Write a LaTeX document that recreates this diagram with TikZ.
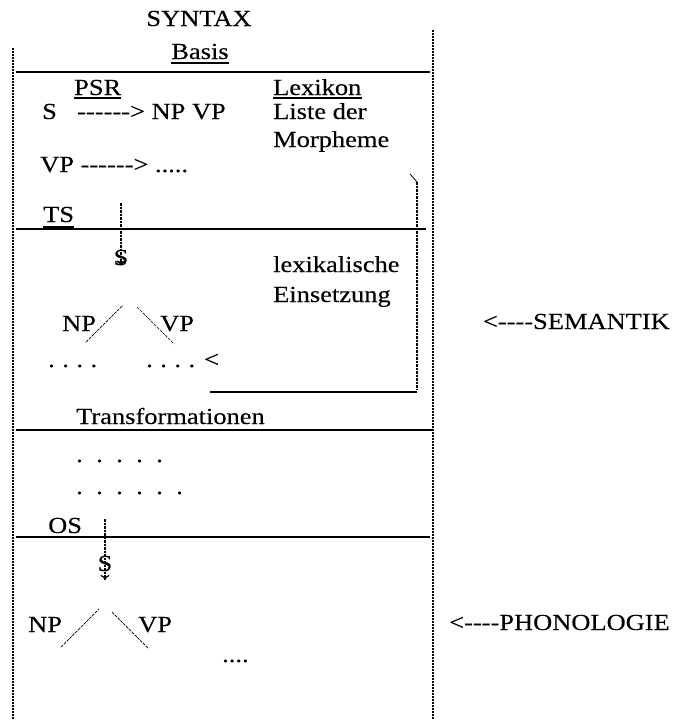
\documentclass[tikz,border=0pt]{standalone}
\usepackage{fontspec}
\usetikzlibrary{arrows.meta}
\setmainfont[FakeStretch=1.15, FakeBold=0.2]{Liberation Serif}
% a single hyphen that never joins its neighbours into a dash ligature
\newcommand\hyph{-\kern0pt}
\begin{document}
\begin{tikzpicture}[x=1pt,y=-1pt,
  txt/.style={inner sep=0pt, anchor=base west, font=\fontsize{23}{26}\selectfont},
  ctxt/.style={txt, anchor=base},
  etxt/.style={txt, anchor=base east},
  rule/.style={line width=1.8pt},
  border/.style={line width=2.8pt, dash pattern=on 2pt off 1pt},
  guide/.style={line width=1.8pt, dash pattern=on 2.5pt off 1pt},
  branch/.style={line width=0.7pt, dash pattern=on 3pt off 1pt},
  ul/.style={line width=1.8pt}]
\useasboundingbox (0,0) rectangle (675,720);

% outer frame (dashed side lines)
\coordinate (fl-top) at (13,48);  \coordinate (fl-bot) at (13,720);
\coordinate (fr-top) at (433,30); \coordinate (fr-bot) at (433,720);
\draw[border] (fl-top) -- (fl-bot);
\draw[border] (fr-top) -- (fr-bot);

% headings
\node[ctxt] (syntax) at (199,26) {SYNTAX};
\node[ctxt] (basis) at (200,59) {Basis};
\draw[ul] (basis.base west) ++(0,4) coordinate (b1) -- (b1 -| basis.base east);

% horizontal rules
\coordinate (r1a) at (16,72);  \coordinate (r1b) at (430,72);
\coordinate (r2a) at (16,229); \coordinate (r2b) at (426,229);
\coordinate (r3a) at (16,430); \coordinate (r3b) at (432,430);
\coordinate (r4a) at (16,537); \coordinate (r4b) at (430,537);
\draw[rule] (r1a) -- (r1b);
\draw[rule] (r2a) -- (r2b);
\draw[rule] (r3a) -- (r3b);
\draw[rule] (r4a) -- (r4b);

% base component: phrase structure rules and lexicon
\node[txt] (psr) at (74,95) {PSR};
\draw[ul] (psr.base west) ++(0,3) coordinate (p1) -- (p1 -| psr.base east);
\node[txt] (lex) at (273,95) {Lexikon};
\draw[ul] (lex.base west) ++(0,3) coordinate (l1) -- (l1 -| lex.base east);
\node[txt] (rule-s) at (42,119) {S};
\node[txt] (rule-s2) at (77,119) {\hyph\hyph\hyph\hyph\hyph\hyph> NP VP};
\node[txt] (liste) at (273,119) {Liste der};
\node[txt] (morph) at (273,147) {Morpheme};
\node[txt] (rule-vp) at (40,172) {VP \hyph\hyph\hyph\hyph\hyph\hyph> .....};

% lexical insertion bracket
\coordinate (k0) at (410,174);
\coordinate (k1) at (417,182);
\coordinate (k2) at (417,390);
\coordinate (k3) at (417,392);
\coordinate (k4) at (210,392);
\draw[line width=0.8pt] (k0) -- (k1);
\draw[guide, line width=1.4pt] (k1) -- (k2);
\draw[rule] (k3) -- (k4);

% deep structure
\node[txt] (ts) at (43,222) {TS};
\draw[ul] (ts.base west) ++(0,5) coordinate (t1) -- (t1 -| ts.base east);
\coordinate (ts-top) at (121,203);
\node[ctxt] (s1) at (121,265) {S};
\draw[guide, -{To[length=5pt,width=9pt]}] (ts-top) -- (s1.south);
\node[txt] (lexik) at (273,272) {lexikalische};
\node[txt] (einsetz) at (273,302) {Einsetzung};
\node[txt] (np1) at (62,331) {NP};
\node[txt] (vp1) at (160,331) {VP};
\coordinate (np1-a) at (86,342);  \coordinate (np1-b) at (123,305);
\coordinate (vp1-a) at (137,307); \coordinate (vp1-b) at (174,344);
\draw[branch] (np1-a) -- (np1-b);
\draw[branch] (vp1-a) -- (vp1-b);
\node[txt] (dots1) at (48,367) {.\kern7.5pt.\kern7.5pt.\kern7.5pt.};
\node[txt] (dots2) at (146,367) {.\kern7.5pt.\kern7.5pt.\kern7.5pt.\kern9pt<};

% transformations
\node[txt] (trans) at (76,424) {Transformationen};
\node[txt] (dots3) at (76,462) {.\kern13.4pt.\kern13.4pt.\kern13.4pt.\kern13.4pt.};
\node[txt] (dots4) at (76,494) {.\kern13.4pt.\kern13.4pt.\kern13.4pt.\kern13.4pt.\kern13.4pt.};

% surface structure
\node[txt] (os) at (48,533) {OS};
\draw[ul] (os.base west) ++(0,4) coordinate (o1) -- (o1 -| os.base east);
\coordinate (os-top) at (105,519);
\coordinate (os-tip) at (105,580);
\node[ctxt] (s2) at (105,571) {S};
\draw[guide, line width=1.2pt, -{To[length=5pt,width=9pt]}] (os-top) -- (os-tip);
\node[txt] (np2) at (28,632) {NP};
\node[txt] (vp2) at (138,632) {VP};
\coordinate (np2-a) at (61,647);  \coordinate (np2-b) at (99,609);
\coordinate (vp2-a) at (112,612); \coordinate (vp2-b) at (148,648);
\draw[branch] (np2-a) -- (np2-b);
\draw[branch] (vp2-a) -- (vp2-b);
\node[txt] (dots5) at (222,662) {....};

% interfaces
\node[etxt] (sem) at (670,329) {<\hyph\hyph\hyph\hyph SEMANTIK};
\node[etxt] (phon) at (670,630) {<\hyph\hyph\hyph\hyph PHONOLOGIE};
\end{tikzpicture}
\end{document}
